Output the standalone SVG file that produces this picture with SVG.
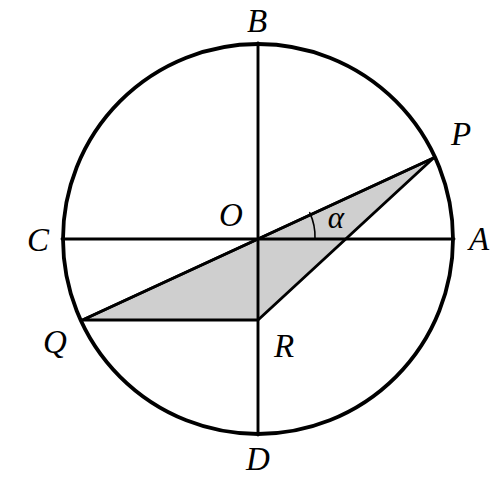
<svg xmlns="http://www.w3.org/2000/svg" width="502" height="488" viewBox="0 0 502 488">
<style>
.ln{stroke:#000;stroke-width:2.9;fill:none;stroke-linecap:round;stroke-linejoin:round}
.lb{font-family:"Liberation Serif",serif;font-style:italic;font-size:33px;fill:#000;text-anchor:middle}
</style>
<rect width="502" height="488" fill="#fff"/>
<g id="triangle">
<polygon points="433.5,158 82.5,320 258,320" style="fill:#cfcfcf;stroke:#000;stroke-width:2.9;stroke-linejoin:round"/>
</g>
<g id="connectors">
<line class="ln" x1="258" y1="43" x2="258" y2="435"/>
<line class="ln" x1="62" y1="239" x2="454" y2="239"/>
<line class="ln" x1="433.5" y1="158" x2="82.5" y2="320"/>
<path class="ln" d="M315,239 A57,57 0 0 0 309.7,212.7" style="stroke-width:1.6"/>
</g>
<g id="circle">
<circle cx="258" cy="239" r="195" fill="none" stroke="#000" stroke-width="3.8"/>
</g>
<g id="labels">
<text class="lb" x="257" y="32">B</text>
<text class="lb" x="258" y="470">D</text>
<text class="lb" x="461" y="145">P</text>
<text class="lb" x="479" y="250">A</text>
<text class="lb" x="38" y="251">C</text>
<text class="lb" x="55" y="353">Q</text>
<text class="lb" x="231" y="226">O</text>
<text class="lb" x="284" y="357">R</text>
<text class="lb" x="336" y="228" style="font-size:31px">α</text>
</g>
</svg>
